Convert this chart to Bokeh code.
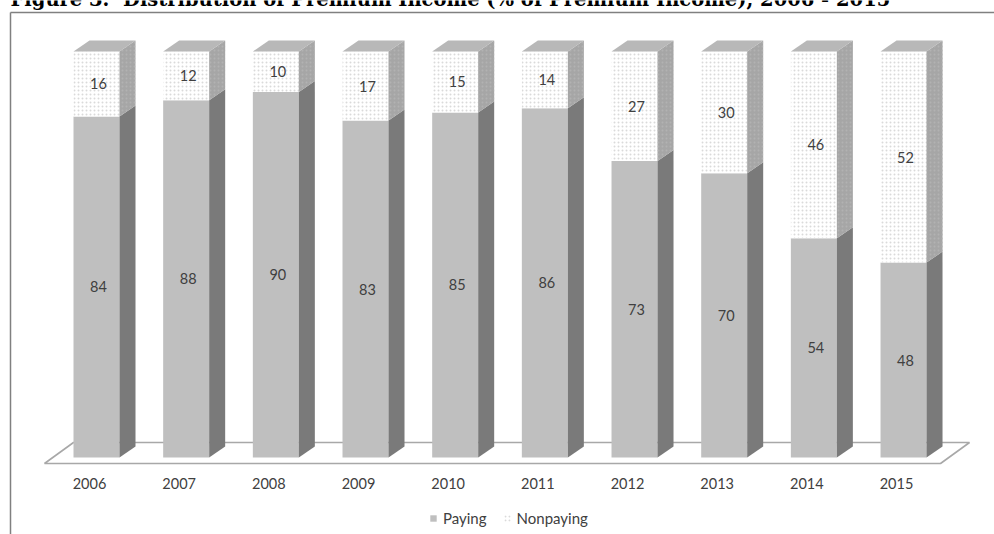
from bokeh.plotting import figure
from bokeh.models import Range1d, Legend, LegendItem, ColumnDataSource
from bokeh.core.properties import value
from bokeh.embed import file_html
from bokeh.resources import INLINE

# ---- data ----
years = ["2006", "2007", "2008", "2009", "2010", "2011", "2012", "2013", "2014", "2015"]
paying = [84, 88, 90, 83, 85, 86, 73, 70, 54, 48]
nonpaying = [16, 12, 10, 17, 15, 14, 27, 30, 46, 52]
series_names = ["Paying", "Nonpaying"]
title_text = "Figure 3.\u00a0 Distribution of Premium Income (% of Premium Income), 2006 - 2015"

# ---- layout (pixel geometry of the 3D look) ----
W, H = 994, 534
PX_CAT = 89.67      # px per category
PX_X0 = 96          # px of first category centre
PX_Y0 = 457         # px (from top) of 0 %
PX_PCT = 4.06       # px per percent

def sx(px):  # horizontal pixel length -> data units
    return px / PX_CAT

def sy(px):  # vertical pixel length -> percent units
    return px / PX_PCT

def X(px):   # absolute pixel x -> data
    return (px - PX_X0) / PX_CAT

def Y(px):   # absolute pixel y (from top) -> data
    return (PX_Y0 - px) / PX_PCT

p = figure(width=W, height=H, output_backend="svg", toolbar_location=None,
           x_range=Range1d(X(0), X(W)), y_range=Range1d(Y(H), Y(0)),
           min_border=0, min_border_left=0, min_border_right=0,
           min_border_top=0, min_border_bottom=0)
p.axis.visible = False
p.grid.visible = False
p.outline_line_color = None
p.background_fill_color = "white"
p.border_fill_color = "white"

n = len(years)
xs = list(range(n))
bw = sx(46)
ddx, ddy = sx(16), sy(11)

# floor
fl_l, fl_r = -sx(52), (n - 1) + sx(37)
fy0, fdx, fdy = -sy(6), sx(29), sy(21)
p.patch([fl_l, fl_r, fl_r + fdx, fl_l + fdx], [fy0, fy0, fy0 + fdy, fy0 + fdy],
        fill_color="white", line_color="#a8a8a8", line_width=1.6)

left = [x - bw / 2 for x in xs]
right = [x + bw / 2 for x in xs]
tops = [a + b for a, b in zip(paying, nonpaying)]

# front faces
r_pay = p.quad(left=left, right=right, bottom=[0] * n, top=paying,
               fill_color="#bfbfbf", line_color=None)
r_non = p.quad(left=left, right=right, bottom=paying, top=tops,
               fill_color="white", line_color=None,
               hatch_pattern="dot", hatch_color="#dadada", hatch_scale=4, hatch_weight=1)

# side faces
side_pay_x = [[r, r + ddx, r + ddx, r] for r in right]
side_pay_y = [[0, ddy, v + ddy, v] for v in paying]
p.patches(side_pay_x, side_pay_y, fill_color="#7a7a7a", line_color=None)
side_non_x = [[r, r + ddx, r + ddx, r] for r in right]
side_non_y = [[v, v + ddy, t + ddy, t] for v, t in zip(paying, tops)]
p.patches(side_non_x, side_non_y, fill_color="#a6a6a6", line_color=None,
          hatch_pattern="dot", hatch_color="#b2b2b2", hatch_scale=4, hatch_weight=1)

# top faces
top_x = [[l, r, r + ddx, l + ddx] for l, r in zip(left, right)]
top_y = [[t, t, t + ddy, t + ddy] for t in tops]
p.patches(top_x, top_y, fill_color="#b8b8b8", line_color=None)

# value labels
lab_src = ColumnDataSource(dict(
    x=[x + sx(2) for x in xs] * 2,
    y=[v / 2 for v in paying] + [v + w / 2 for v, w in zip(paying, nonpaying)],
    t=[str(v) for v in paying] + [str(v) for v in nonpaying]))
p.text(x="x", y="y", text="t", source=lab_src, text_align="center", text_baseline="middle",
       text_font=value("Lato"), text_font_size="14.5px", text_color="#404040")

# category labels
p.text(x=[x - sx(7) for x in xs], y=[Y(483)] * n, text=years,
       text_align="center", text_baseline="middle",
       text_font=value("Lato"), text_font_size="14.5px", text_color="#404040")

# chart border (left and top)
p.line([X(10), X(10)], [Y(12), Y(H + 5)], line_color="#808080", line_width=1.5)
p.line([X(10), X(W + 5)], [Y(12), Y(12)], line_color="#808080", line_width=1.5)

# title (cut off at the top, as in the source)
p.text(x=[X(10)], y=[Y(10.5)], text=[title_text], text_align="left", text_baseline="bottom",
       text_font=value("DejaVu Serif"), text_font_style="bold", text_font_size="19.5px",
       text_color="black")

legend = Legend(items=[LegendItem(label=series_names[0], renderers=[r_pay]),
                       LegendItem(label=series_names[1], renderers=[r_non])],
                orientation="horizontal", location=(429, 7),
                glyph_width=8, glyph_height=8, label_standoff=6, spacing=16,
                padding=0, margin=0, border_line_color=None, background_fill_alpha=0,
                label_text_font="Lato", label_text_font_size="15px", label_text_color="#404040")
p.add_layout(legend)

open("out.html", "w").write(file_html(p, INLINE))
